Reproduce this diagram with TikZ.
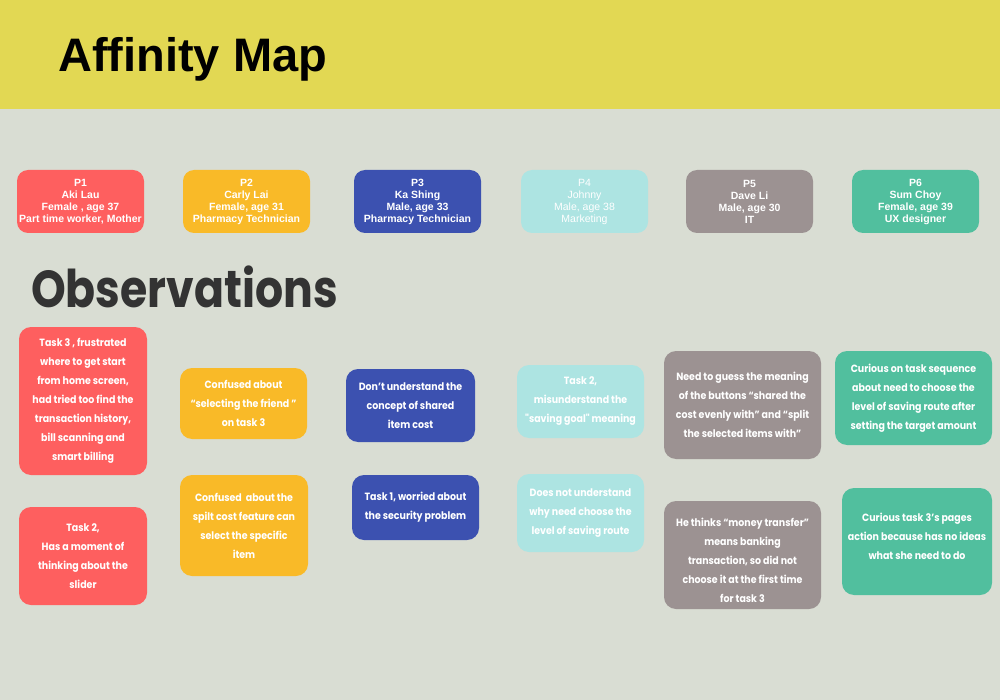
\documentclass[tikz,border=0pt]{standalone}
\usepackage{fontspec}
\setmainfont{Liberation Sans}
\newfontfamily\obsfont{Poppins}[FakeStretch=0.9]
\newfontfamily\headfont{Poppins}[FakeStretch=0.85]
\definecolor{bgc}{HTML}{D9DDD3}
\definecolor{hdr}{HTML}{E2D853}
\definecolor{cred}{HTML}{FE5F5F}
\definecolor{cyel}{HTML}{F9BA28}
\definecolor{cblu}{HTML}{3C51B0}
\definecolor{ccya}{HTML}{ADE4E2}
\definecolor{cgry}{HTML}{9C9292}
\definecolor{cgrn}{HTML}{51BF9E}
\definecolor{dark}{HTML}{333333}
\tikzset{
  persona/.style={rectangle, rounded corners=11pt, minimum width=127pt, minimum height=63pt, inner sep=0pt, align=center, text=white, font=\fontsize{10.5}{12}\selectfont\bfseries},
  obs/.style={rectangle, rounded corners=12pt, inner sep=0pt, align=center, text=white, font=\obsfont\fontsize{10.5}{19}\selectfont\bfseries},
}
\begin{document}
\begin{tikzpicture}[x=1pt,y=1pt]
\useasboundingbox (0,0) rectangle (1000,-700);
\fill[bgc] (0,0) rectangle (1000,-700);
\fill[hdr] (0,0) rectangle (1000,-109);
\node[anchor=base west, inner sep=0pt, font=\fontsize{47}{50}\selectfont\bfseries] (title) at (58,-72) {Affinity Map};
\node[anchor=base west, inner sep=0pt, text=dark, font=\headfont\fontsize{52}{56}\selectfont\bfseries] (obsT) at (31,-307) {Observations};
% personas
\node[persona, fill=cred] (p1) at (80.5,-201.5) {P1\\Aki Lau\\Female , age 37\\Part time worker, Mother};
\node[persona, fill=cyel] (p2) at (246.5,-201.5) {P2\\Carly Lai\\Female, age 31\\Pharmacy Technician};
\node[persona, fill=cblu] (p3) at (417.5,-201.5) {P3\\Ka Shing\\Male, age 33\\Pharmacy Technician};
\node[persona, fill=ccya, font=\fontsize{10.5}{12}\selectfont] (p4) at (584.5,-201.5) {P4\\Johnny\\Male, age 38\\Marketing};
\node[persona, fill=cgry] (p5) at (749.5,-201.5) {P5\\Dave Li\\Male, age 30\\IT};
\node[persona, fill=cgrn] (p6) at (915.5,-201.5) {P6\\Sum Choy\\Female, age 39\\UX designer};
% observations
\node[obs, fill=cred, minimum width=128pt, minimum height=148pt] (o11) at (83,-401) {Task 3 , frustrated\\where to get start\\from home screen,\\had tried too find the\\transaction history,\\bill scanning and\\smart billing};
\node[obs, fill=cred, minimum width=128pt, minimum height=98pt] (o12) at (83,-556) {Task 2,\\Has a moment of\\thinking about the\\slider};
\node[obs, fill=cyel, minimum width=127pt, minimum height=71pt] (o21) at (243.5,-403.5) {Confused about\\“selecting the friend ”\\on task 3};
\node[obs, fill=cyel, minimum width=128pt, minimum height=101pt] (o22) at (244,-525.5) {Confused\ \ about the\\spilt cost feature can\\select the specific\\item};
\node[obs, fill=cblu, minimum width=129pt, minimum height=73pt] (o31) at (410.5,-405.5) {Don’t understand the\\concept of shared\\item cost};
\node[obs, fill=cblu, minimum width=127pt, minimum height=65pt] (o32) at (415.5,-507.5) {Task 1, worried about\\the security problem};
\node[obs, fill=ccya, minimum width=127pt, minimum height=73pt] (o41) at (580.5,-401.5) {Task 2,\\misunderstand the\\"saving goal" meaning};
\node[obs, fill=ccya, minimum width=127pt, minimum height=78pt] (o42) at (580.5,-513) {Does not understand\\why need choose the\\level of saving route};
\node[obs, fill=cgry, minimum width=157pt, minimum height=108pt] (o51) at (742.5,-405) {Need to guess the meaning\\of the buttons “shared the\\cost evenly with” and “split\\the selected items with”};
\node[obs, fill=cgry, minimum width=157pt, minimum height=108pt] (o52) at (742.5,-555) {};
\node[obs, text=white] (o52t) at (742.5,-560) {He thinks “money transfer”\\means banking\\transaction, so did not\\choose it at the first time\\for task 3};
\node[obs, fill=cgrn, minimum width=157pt, minimum height=94pt] (o61) at (913.5,-398) {Curious on task sequence\\about need to choose the\\level of saving route after\\setting the target amount};
\node[obs, fill=cgrn, minimum width=150pt, minimum height=107pt] (o62) at (917,-541.5) {};
\node[obs, text=white] (o62t) at (917,-536) {Curious task 3’s pages\\action because has no ideas\\what she need to do};
\end{tikzpicture}
\end{document}
